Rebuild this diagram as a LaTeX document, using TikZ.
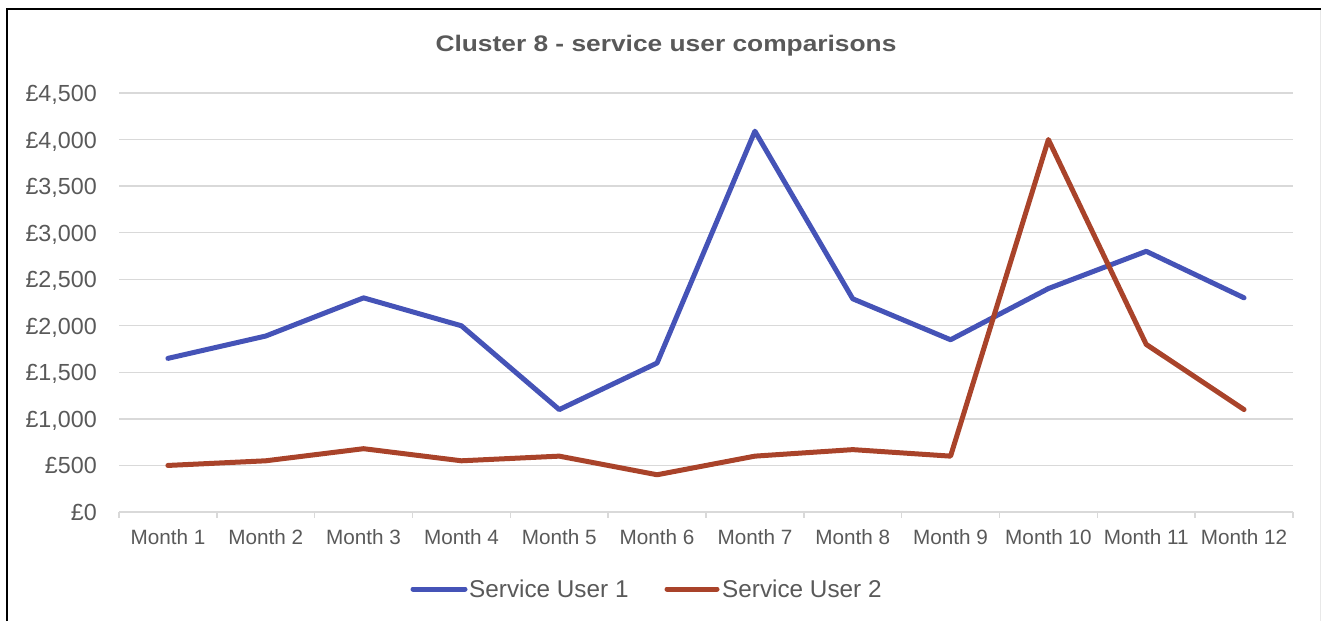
\documentclass[tikz,border=0pt]{standalone}
\usepackage{graphicx}
\usepackage{fontspec}
\setmainfont{Liberation Sans}
\usetikzlibrary{positioning}
\definecolor{suone}{HTML}{4553B7}
\definecolor{sutwo}{HTML}{A9432A}
\definecolor{gridg}{HTML}{D9D9D9}
\definecolor{txtg}{HTML}{595959}
\tikzset{
  every node/.style={text=txtg, inner sep=0pt},
  gridline/.style={draw=gridg, line width=1.4pt},
  series/.style={line width=5pt, line cap=round, line join=round},
  ticklbl/.style={font=\fontsize{23.3}{26}\selectfont, anchor=base east},
  catlbl/.style={font=\fontsize{20.7}{24}\selectfont, anchor=base},
  leglbl/.style={font=\fontsize{24.3}{28}\selectfont, anchor=base west},
}

\begin{document}
\begin{tikzpicture}[x=1pt, y=-1pt]
\useasboundingbox (0,0) rectangle (1321,621);

% chart frame
\draw[line width=2.3pt] (6.9,621) -- (6.9,9.3) -- (1321,9.3);
\draw[draw=gridg!60, line width=1pt] (1320,10.4) -- (1320,621);

\node[font=\bfseries\fontsize{22.5}{26}\selectfont, anchor=base] (title) at (666,51)
  {\scalebox{1.17}[1]{Cluster 8 - service user comparisons}};

% ───────────── plot area ─────────────
\begin{scope}[shift={(119,512)}, x=97.83pt, y=0.09311pt]
  \foreach \v in {500,1000,...,4500}
    \draw[gridline] (0,\v) -- (12,\v);
  \draw[gridline] (0,0) -- (12,0);
  \foreach \i in {0,...,12}
    \draw[gridline] (\i,0) -- ++(0pt,-5.5pt);

  \foreach \v/\t in {0/£0, 500/£500, 1000/{£1,000}, 1500/{£1,500}, 2000/{£2,000},
                     2500/{£2,500}, 3000/{£3,000}, 3500/{£3,500}, 4000/{£4,000}, 4500/{£4,500}}
    \node[ticklbl] (y\v) at ([xshift=-22pt, yshift=-8.5pt]0,\v) {\t};

  \foreach \m in {1,...,12}
    \node[catlbl] (m\m) at ([yshift=-32pt]\m-0.5,0) {Month \m};

  % monthly costs per service user
  \draw[series, suone] plot coordinates {(0.5,1650) (1.5,1890) (2.5,2300) (3.5,2000)
    (4.5,1100) (5.5,1600) (6.5,4090) (7.5,2290) (8.5,1850) (9.5,2400) (10.5,2800) (11.5,2300)};
  \draw[series, sutwo] plot coordinates {(0.5,500) (1.5,550) (2.5,680) (3.5,550)
    (4.5,600) (5.5,400) (6.5,600) (7.5,670) (8.5,600) (9.5,4000) (10.5,1800) (11.5,1100)};
\end{scope}

% legend
\node[leglbl] (leg1) at (469,597) {Service User 1};
\node[leglbl] (leg2) at (722,597) {Service User 2};
\draw[series, suone] ([xshift=-4pt, yshift=8pt]leg1.base west) -- ++(-52,0);
\draw[series, sutwo] ([xshift=-5pt, yshift=8pt]leg2.base west) -- ++(-50,0);

\end{tikzpicture}
\end{document}
